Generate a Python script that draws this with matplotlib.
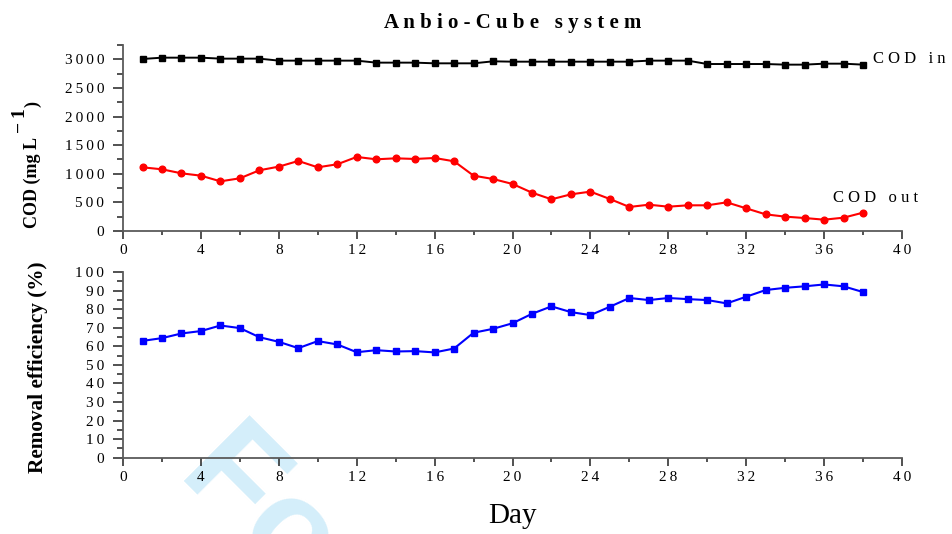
#!/usr/bin/env python3
"""
Anbio-Cube system: COD in/out and removal efficiency over time
"""

import matplotlib
matplotlib.use('Agg')
import matplotlib.pyplot as plt
from matplotlib.ticker import MultipleLocator, FuncFormatter

# Data
days = [1, 2, 3, 4, 5, 6, 7, 8, 9, 10, 11, 12, 13, 14, 15, 16, 17, 18, 19,
        20, 21, 22, 23, 24, 25, 26, 27, 28, 29, 30, 31, 32, 33, 34, 35, 36,
        37, 38]

cod_in = [3006, 3029, 3029, 3029, 3012, 3012, 3012, 2977, 2977, 2977, 2977,
          2977, 2942, 2942, 2942, 2930, 2930, 2930, 2965, 2959, 2959, 2959,
          2959, 2959, 2959, 2959, 2977, 2977, 2977, 2918, 2918, 2918, 2918,
          2907, 2907, 2924, 2924, 2907]

cod_out = [1113, 1078, 1008, 967, 868, 921, 1061, 1125, 1224, 1113, 1166,
           1294, 1253, 1270, 1259, 1276, 1218, 967, 909, 822, 670, 554, 641,
           688, 559, 420, 460, 425, 449, 449, 501, 396, 291, 251, 227, 198,
           233, 321]

removal = [62.9, 64.4, 66.9, 68.2, 71.2, 69.8, 64.9, 62.4, 59.0, 62.8, 61.0,
           56.8, 57.9, 57.2, 57.4, 56.7, 58.8, 67.3, 69.4, 72.4, 77.5, 81.5,
           78.4, 76.8, 81.3, 86.0, 84.9, 86.0, 85.4, 84.9, 83.1, 86.7, 90.3,
           91.5, 92.3, 93.3, 92.3, 89.2]

SERIF = ['Liberation Serif', 'DejaVu Serif']
plt.rcParams['font.family'] = SERIF
plt.rcParams['mathtext.fontset'] = 'stix'

W, H = 953, 534
AXIS_GREY = '#5a5a5a'


def spaced(s, sep=' '):
    """Letter-spaced text like the original"""
    return sep.join(s)


def px(x, y):
    """pixel position (from top-left) -> figure fraction"""
    return x / W, 1 - y / H


tick_fmt = FuncFormatter(lambda v, p: spaced(str(int(round(v))), '\u2009'))


def style_axis(ax, ymax, ymajor, yminor):
    ax.set_facecolor('none')
    for side in ['top', 'right']:
        ax.spines[side].set_visible(False)
    for side in ['left', 'bottom']:
        ax.spines[side].set_color(AXIS_GREY)
        ax.spines[side].set_linewidth(1.3)
    ax.set_xlim(0, 40)
    ax.set_ylim(0, ymax)
    ax.xaxis.set_major_locator(MultipleLocator(4))
    ax.xaxis.set_minor_locator(MultipleLocator(2))
    ax.yaxis.set_major_locator(MultipleLocator(ymajor))
    ax.yaxis.set_minor_locator(MultipleLocator(yminor))
    ax.xaxis.set_major_formatter(tick_fmt)
    ax.yaxis.set_major_formatter(tick_fmt)
    ax.tick_params(axis='x', which='major', length=5.5, width=1.1, pad=4,
                   labelsize=11, color='#222222')
    ax.tick_params(axis='x', which='minor', length=3, width=1.1, color='#222222')
    ax.tick_params(axis='y', which='major', length=7.5, width=1.1, pad=6,
                   labelsize=11, color='#222222')
    ax.tick_params(axis='y', which='minor', length=4, width=1.1, color='#222222')


fig = plt.figure(figsize=(W / 100, H / 100), dpi=100)
renderer = fig.canvas.get_renderer()

# watermark behind everything
fig.text(*px(177, 474), 'For Peer Review', rotation=-45,
         rotation_mode='anchor', ha='left', va='baseline', fontsize=97,
         fontweight='bold', color='#d4eefa', family='Liberation Sans',
         zorder=-1)

ax1 = fig.add_axes([0.1291, 0.5674, 0.8174, 0.3483])
ax2 = fig.add_axes([0.1291, 0.1429, 0.8174, 0.3477])

# top panel: COD in / out
ax1.plot(days, cod_in, color='black', lw=1.4, marker='s', ms=4.6)
ax1.plot(days, cod_out, color='#ff0000', lw=1.5, marker='o', ms=4.8)
style_axis(ax1, 3250, 500, 250)
ax1.text(38.5, 3000, spaced('COD in'), fontsize=12, va='center', ha='left',
         clip_on=False)
ax1.text(36.45, 580, spaced('COD out'), fontsize=12, va='center', ha='left',
         clip_on=False)
ax1.set_title(spaced('Anbio-Cube system'), fontsize=15, fontweight='bold',
              pad=12)

# y label of top panel built from pieces: the superscript is full size
lab_kw = dict(rotation=90, rotation_mode='anchor', ha='left', va='baseline',
              fontweight='bold')
t1 = fig.text(*px(37, 228), 'COD (mg L', fontsize=13, **lab_kw)
top1 = t1.get_window_extent(renderer).y1
t2 = fig.text(25 / W, (top1 + 4) / H, '\u2212\u20091', fontsize=14, **lab_kw)
top2 = t2.get_window_extent(renderer).y1
fig.text(37 / W, (top2 + 1) / H, ')', fontsize=13, **lab_kw)

# bottom panel: removal efficiency
ax2.plot(days, removal, color='#0000ff', lw=1.5, marker='s', ms=4.8)
style_axis(ax2, 100, 10, 5)
fig.text(*px(43, 367), 'Removal efficiency (%)', rotation=90,
         rotation_mode='anchor', ha='center', va='baseline', fontsize=15.3,
         fontweight='bold')
ax2.set_xlabel('Day', fontsize=21, labelpad=14)

fig.savefig('out.png', dpi=100)
print('saved out.png')
